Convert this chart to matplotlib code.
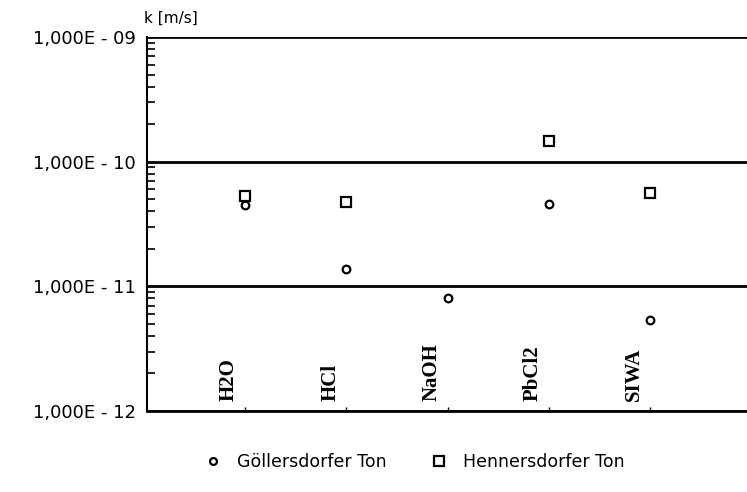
import matplotlib
matplotlib.use("Agg")
import matplotlib.pyplot as plt
import numpy as np

categories = ["H2O", "HCl", "NaOH", "PbCl2", "SIWA"]
goellersdorf = [4.5e-11, 1.38e-11, 8.1e-12, 4.6e-11, 5.4e-12]
hennersdorf = [5.3e-11, 4.75e-11, np.nan, 1.46e-10, 5.6e-11]
ytick_vals = [1e-12, 1e-11, 1e-10, 1e-9]
ytick_labels = ["1,000E - 12", "1,000E - 11", "1,000E - 10", "1,000E - 09"]

fig = plt.figure(figsize=(7.47, 4.92), dpi=100)
ax = fig.add_axes([147/747, 1-411/492, 1-147/747, (411-37)/492])

x = np.arange(1, len(categories) + 1)
ax.plot(x, goellersdorf, linestyle="none", marker="o", markersize=5.5,
        markerfacecolor="white", markeredgecolor="black", markeredgewidth=1.6,
        label="Göllersdorfer Ton")
ax.plot(x, hennersdorf, linestyle="none", marker="s", markersize=7.5,
        markerfacecolor="white", markeredgecolor="black", markeredgewidth=1.6,
        label="Hennersdorfer Ton")

ax.set_yscale("log")
ax.set_ylim(1e-12, 1e-9)
ax.set_xlim(0.03, 5.96)
ax.set_yticks(ytick_vals)
ax.set_yticklabels(ytick_labels, fontsize=13, family="DejaVu Sans")
ax.yaxis.set_minor_locator(matplotlib.ticker.LogLocator(base=10, subs=np.arange(2, 10)))
ax.yaxis.set_minor_formatter(matplotlib.ticker.NullFormatter())
ax.tick_params(axis="y", which="major", length=0, pad=8)
ax.tick_params(axis="y", which="minor", direction="in", length=6, width=1.2)
ax.grid(axis="y", which="major", color="black", linewidth=2)

ax.set_xticks(x)
ax.set_xticklabels([])
ax.tick_params(axis="x", direction="in", length=3, width=1)

for xi, lab in zip(x, categories):
    ax.text(xi - 0.06, 1.2e-12, lab, rotation=90, ha="right", va="bottom",
            fontsize=15, fontweight="bold", family="Liberation Serif")

for s in ["top", "right"]:
    ax.spines[s].set_visible(False)
ax.spines["left"].set_linewidth(1.5)
ax.spines["bottom"].set_linewidth(2)

fig.text(144/747, 1-18/492, "k [m/s]", fontsize=11, ha="left", va="center")

leg = fig.legend(loc="center", bbox_to_anchor=(410/747, 1-462/492), ncol=2,
                 frameon=False, fontsize=12.5, handletextpad=0.4, columnspacing=2.0,
                 markerscale=0.9)

fig.savefig("out.png", dpi=100)
